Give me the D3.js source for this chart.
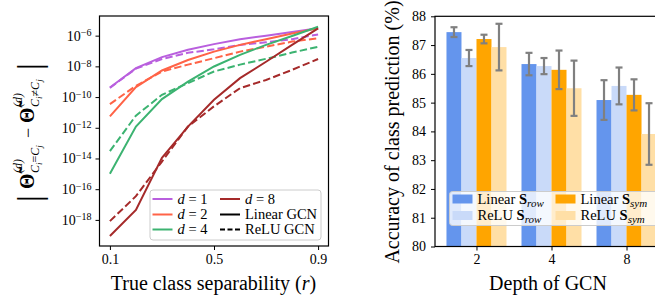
<!doctype html>
<html>
<head>
<meta charset="utf-8">
<script src="https://d3js.org/d3.v7.min.js"></script>
<style>
  body { margin: 0; background: #fff; }
  text { font-family: "Liberation Serif", serif; fill: #000; }
  .tick text { font-size: 14px; }
</style>
</head>
<body>
<script>
// ---- left panel data: separability r vs |Theta diff| ----
var rVals = [0.1, 0.2, 0.3, 0.4, 0.5, 0.6, 0.7, 0.8, 0.9];
var d1Linear = [4.2e-10, 7.6e-9, 4.0e-8, 1.2e-7, 2.8e-7, 5.9e-7, 1.0e-6, 1.7e-6, 3.0e-6];
var d1Relu   = [4.0e-10, 7.1e-9, 3.0e-8, 7.6e-8, 1.3e-7, 2.5e-7, 3.7e-7, 5.9e-7, 1.2e-6];
var d2Linear = [5.5e-12, 4.5e-10, 5.4e-9, 2.6e-8, 9.1e-8, 2.5e-7, 5.9e-7, 1.4e-6, 3.0e-6];
var d2Relu   = [3.5e-11, 5.4e-10, 4.6e-9, 1.3e-8, 3.4e-8, 9.1e-8, 1.9e-7, 4.1e-7, 6.8e-7];
var d4Linear = [1.0e-15, 1.2e-12, 7.4e-11, 1.0e-9, 9.8e-9, 5.6e-8, 2.5e-7, 9.5e-7, 3.8e-6];
var d4Relu   = [3.0e-14, 6.2e-12, 1.4e-10, 8.1e-10, 4.6e-9, 1.3e-8, 3.1e-8, 7.9e-8, 1.9e-7];
var d8Linear = [8.9e-20, 4.4e-18, 1.1e-14, 1.2e-12, 6.6e-11, 1.7e-9, 2.0e-8, 2.5e-7, 3.0e-6];
var d8Relu   = [8.3e-19, 3.5e-17, 6.3e-15, 1.2e-12, 2.5e-11, 3.8e-10, 1.3e-9, 5.9e-9, 3.0e-8];
var depthNames = ["1", "2", "4", "8"];
var logTickExps = [-6, -8, -10, -12, -14, -16, -18];
var rTicks = [0.1, 0.5, 0.9];

// ---- right panel data: accuracy per depth ----
var depths = ["2", "4", "8"];
var seriesNames = ["Linear S_row", "ReLU S_row", "Linear S_sym", "ReLU S_sym"];
var accLinearRow = [87.45, 86.34, 85.09];
var errLinearRow = [0.17, 0.39, 0.69];
var accReluRow   = [86.55, 86.27, 85.58];
var errReluRow   = [0.28, 0.28, 0.64];
var accLinearSym = [87.21, 86.14, 85.27];
var errLinearSym = [0.15, 0.67, 0.54];
var accReluSym   = [86.93, 85.50, 83.91];
var errReluSym   = [0.81, 0.96, 1.07];
var accTicks = [80, 81, 82, 83, 84, 85, 86, 87, 88];

var svg = d3.select("body").append("svg")
  .attr("width", 655).attr("height", 302);

// ================= left panel =================
var depthColors = ["#b95fde", "#ff6347", "#3cb371", "#a52a2a"];
var linearSets = [d1Linear, d2Linear, d4Linear, d8Linear];
var reluSets = [d1Relu, d2Relu, d4Relu, d8Relu];

var xL = d3.scaleLinear().domain([0.06, 0.94]).range([99.5, 328.5]);
var yL = d3.scaleLog().domain([Math.pow(10, -19.7), Math.pow(10, -4.72)]).range([246, 16]);

var left = svg.append("g");
left.append("clipPath").attr("id", "clipL")
  .append("rect").attr("x", 99.5).attr("y", 16).attr("width", 229).attr("height", 230);

var line = d3.line()
  .x(function(d, i) { return xL(rVals[i]); })
  .y(function(d) { return yL(d); });

var plotL = left.append("g").attr("clip-path", "url(#clipL)");
for (var k = 0; k < 4; k++) {
  plotL.append("path").attr("d", line(reluSets[k]))
    .attr("fill", "none").attr("stroke", depthColors[k]).attr("stroke-width", 2)
    .attr("stroke-dasharray", "7.4,3.2");
  plotL.append("path").attr("d", line(linearSets[k]))
    .attr("fill", "none").attr("stroke", depthColors[k]).attr("stroke-width", 2);
}

var xAxisL = d3.axisBottom(xL).tickValues(rTicks).tickSize(4).tickPadding(4)
  .tickFormat(d3.format(".1f"));
var gxL = left.append("g").attr("transform", "translate(0,246)").call(xAxisL);
gxL.select(".domain").remove();
gxL.selectAll("text").style("font-size", "14px");

var yAxisL = d3.axisLeft(yL).tickValues(logTickExps.map(function(e) { return Math.pow(10, e); }))
  .tickSize(4).tickPadding(5).tickFormat("");
var gyL = left.append("g").attr("transform", "translate(99.5,0)").call(yAxisL);
gyL.select(".domain").remove();
gyL.selectAll(".tick").each(function(d, i) {
  var t = d3.select(this).append("text").attr("x", -8).attr("dy", "0.32em")
    .attr("text-anchor", "end").style("font-size", "14px").attr("fill", "#000");
  t.append("tspan").text("10");
  t.append("tspan").attr("dy", "-0.45em").style("font-size", "10px").text("\u2212" + (-logTickExps[i]));
});

left.append("rect").attr("x", 99.5).attr("y", 16).attr("width", 229).attr("height", 230)
  .attr("fill", "none").attr("stroke", "#000").attr("stroke-width", 1.2);

left.append("text").attr("x", 213.5).attr("y", 290).attr("text-anchor", "middle")
  .style("font-size", "20px")
  .html('True class separability (<tspan font-style="italic">r</tspan>)');

// rotated y label, laid out along the run from the bottom
var ylab = left.append("g").attr("transform", "translate(34,200) rotate(-90)");
function bar(x) {
  ylab.append("text").attr("x", x).attr("y", 7).style("font-size", "34px").text("|");
}
function theta(x, subA) {
  ylab.append("text").attr("x", x).attr("y", 0).attr("font-weight", "bold")
    .style("font-size", "20px").text("\u0398\u0303");
  ylab.append("text").attr("x", x + 16).attr("y", -12).attr("font-style", "italic")
    .style("font-size", "12px").text("(d)");
  var s = ylab.append("text").attr("x", x + 16).attr("y", 5).attr("font-style", "italic")
    .style("font-size", "12px");
  s.append("tspan").text("C");
  s.append("tspan").attr("dy", 2.5).style("font-size", "9px").text("i");
  s.append("tspan").attr("dy", -2.5).attr("font-style", "normal").text(subA);
  s.append("tspan").text("C");
  s.append("tspan").attr("dy", 2.5).style("font-size", "9px").text("j");
}
bar(-2);
theta(11, "=");
ylab.append("text").attr("x", 62).attr("y", 0).style("font-size", "18px").text("\u2212");
theta(77, "\u2260");
bar(130);

// left legend
var legL = left.append("g");
legL.append("rect").attr("x", 150).attr("y", 190).attr("width", 171).attr("height", 50)
  .attr("rx", 3).attr("fill", "#fff").attr("fill-opacity", 0.8).attr("stroke", "#ccc");
var rowsY = [199, 214.5, 229.5];
var legItems = [
  {col: 0, row: 0, color: depthColors[0], dash: null, label: depthNames[0], math: true},
  {col: 0, row: 1, color: depthColors[1], dash: null, label: depthNames[1], math: true},
  {col: 0, row: 2, color: depthColors[2], dash: null, label: depthNames[2], math: true},
  {col: 1, row: 0, color: depthColors[3], dash: null, label: depthNames[3], math: true},
  {col: 1, row: 1, color: "#000", dash: null, label: "Linear GCN", math: false},
  {col: 1, row: 2, color: "#000", dash: "5,2.5", label: "ReLU GCN", math: false}
];
legItems.forEach(function(it) {
  var x0 = it.col === 0 ? 152.5 : 220;
  var yy = rowsY[it.row];
  var ln = legL.append("line").attr("x1", x0).attr("x2", x0 + 20).attr("y1", yy).attr("y2", yy)
    .attr("stroke", it.color).attr("stroke-width", 2);
  if (it.dash) ln.attr("stroke-dasharray", it.dash);
  var t = legL.append("text").attr("x", x0 + 25).attr("y", yy + 4.5).style("font-size", "14.5px");
  if (it.math) {
    t.append("tspan").attr("font-style", "italic").text("d");
    t.append("tspan").text(" = " + it.label);
  } else {
    t.text(it.label);
  }
});

// ================= right panel =================
var barColors = ["#6495ed", "#c9daf9", "#ffa500", "#ffdfa6"];
var accSets = [accLinearRow, accReluRow, accLinearSym, accReluSym];
var errSets = [errLinearRow, errReluRow, errLinearSym, errReluSym];

var xR = d3.scaleLinear().domain([-0.553, 2.553]).range([435, 668]);
var yR = d3.scaleLinear().domain([80, 88]).range([246.5, 16.3]);
var barW = 0.2;

var right = svg.append("g");
for (var s = 0; s < 4; s++) {
  var off = (s - 1.5) * barW;
  right.append("g").selectAll("rect").data(accSets[s]).enter().append("rect")
    .attr("x", function(d, i) { return xR(i + off - barW / 2); })
    .attr("width", xR(barW) - xR(0))
    .attr("y", function(d) { return yR(d); })
    .attr("height", function(d) { return yR(80) - yR(d); })
    .attr("fill", barColors[s]);
}
for (var s2 = 0; s2 < 4; s2++) {
  var off2 = (s2 - 1.5) * barW;
  var errs = errSets[s2];
  var eg = right.append("g").attr("stroke", "#808080").attr("stroke-width", 2.2);
  accSets[s2].forEach(function(v, i) {
    var cx = xR(i + off2);
    eg.append("line").attr("x1", cx).attr("x2", cx).attr("y1", yR(v - errs[i])).attr("y2", yR(v + errs[i]));
    eg.append("line").attr("x1", cx - 3.5).attr("x2", cx + 3.5).attr("y1", yR(v - errs[i])).attr("y2", yR(v - errs[i]));
    eg.append("line").attr("x1", cx - 3.5).attr("x2", cx + 3.5).attr("y1", yR(v + errs[i])).attr("y2", yR(v + errs[i]));
  });
}

var xAxisR = d3.axisBottom(xR).tickValues([0, 1, 2]).tickSize(4).tickPadding(4)
  .tickFormat(function(d) { return depths[d]; });
var gxR = right.append("g").attr("transform", "translate(0,246.5)").call(xAxisR);
gxR.select(".domain").remove();
gxR.selectAll("text").style("font-size", "14px");

var yAxisR = d3.axisLeft(yR).tickValues(accTicks).tickSize(4).tickPadding(5);
var gyR = right.append("g").attr("transform", "translate(435,0)").call(yAxisR);
gyR.select(".domain").remove();
gyR.selectAll("text").style("font-size", "14px");

right.append("rect").attr("x", 435).attr("y", 16.3).attr("width", 233).attr("height", 230.2)
  .attr("fill", "none").attr("stroke", "#000").attr("stroke-width", 1.2);

right.append("text").attr("x", 548).attr("y", 290).attr("text-anchor", "middle")
  .style("font-size", "20px").text("Depth of GCN");
right.append("text").attr("transform", "translate(399,132) rotate(-90)")
  .attr("text-anchor", "middle").style("font-size", "20px").text("Accuracy of class prediction (%)");

// right legend
var legR = right.append("g");
legR.append("rect").attr("x", 449.5).attr("y", 191.5).attr("width", 215).attr("height", 34)
  .attr("rx", 3).attr("fill", "#fff").attr("fill-opacity", 0.8).attr("stroke", "#ccc");
seriesNames.forEach(function(nm, i) {
  var col = Math.floor(i / 2), row = i % 2;
  var x0 = col === 0 ? 452.5 : 555.5;
  var yy = row === 0 ? 199 : 215.5;
  legR.append("rect").attr("x", x0).attr("y", yy - 4.5).attr("width", 20).attr("height", 9)
    .attr("fill", barColors[i]);
  var parts = nm.split(" ");
  var sub = parts[1].split("_")[1];
  var t = legR.append("text").attr("x", x0 + 25).attr("y", yy + 4.5).style("font-size", "14.5px");
  t.append("tspan").text(parts[0] + " ");
  t.append("tspan").attr("font-weight", "bold").text("S");
  t.append("tspan").attr("font-style", "italic").attr("dy", 3).style("font-size", "11px").text(sub);
});
</script>
</body>
</html>
